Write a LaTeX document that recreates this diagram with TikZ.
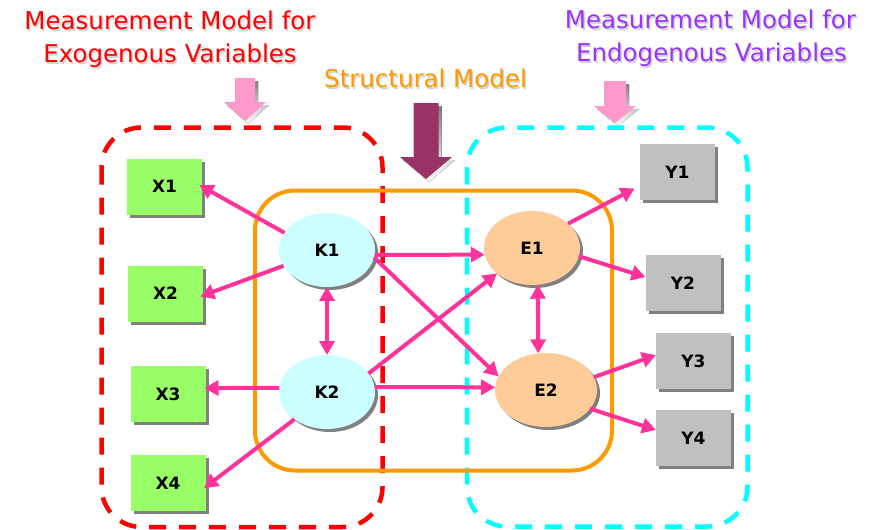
\documentclass[tikz,border=0pt]{standalone}
\usepackage{fontspec}
\setmainfont{DejaVu Sans}
\usetikzlibrary{arrows.meta,shadows,shapes.geometric}

\definecolor{exored}{HTML}{FF0000}
\definecolor{endocyan}{HTML}{00FFFF}
\definecolor{structorange}{HTML}{FF9900}
\definecolor{endopurple}{HTML}{9933FF}
\definecolor{linkpink}{HTML}{FF3399}
\definecolor{softpink}{HTML}{FF99CC}
\definecolor{deepmaroon}{HTML}{993366}
\definecolor{xgreen}{HTML}{99FF66}
\definecolor{ygray}{HTML}{C0C0C0}
\definecolor{latentcyan}{HTML}{CCFFFF}
\definecolor{latentpeach}{HTML}{FFCC99}
\definecolor{shade}{HTML}{808080}

\begin{document}
\begin{tikzpicture}[x=1pt,y=-1pt,
  every node/.style={inner sep=0pt,outer sep=0pt},
  titletext/.style={font=\fontsize{24.5}{29}\selectfont,anchor=base},
  titleshadow/.style={titletext,text=black!18},
  boxshadow/.style={drop shadow={shadow xshift=3pt,shadow yshift=-3pt,fill=shade,opacity=1}},
  labeltext/.style={font=\fontsize{17}{20}\selectfont\bfseries},
  obsbox/.style={rectangle,minimum width=75pt,minimum height=56pt,labeltext,boxshadow},
  xbox/.style={obsbox,fill=xgreen},
  ybox/.style={obsbox,fill=ygray},
  latent/.style={ellipse,minimum width=96pt,minimum height=74pt,labeltext,boxshadow},
  exolatent/.style={latent,fill=latentcyan},
  endolatent/.style={latent,fill=latentpeach},
  conn/.style={linkpink,line width=4pt,-{Triangle[length=14pt,width=15pt]}},
  biconn/.style={linkpink,line width=4pt,{Triangle[length=14pt,width=15pt]}-{Triangle[length=14pt,width=15pt]}},
  groupbox/.style={line width=4.5pt,dash pattern=on 17pt off 13pt,rounded corners=40pt},
]
\useasboundingbox (0,0) rectangle (878,530);

% headings (with a faint offset copy as text shadow)
\node[titleshadow] (exoshA) at (171.5,31) {Measurement Model for};
\node[titleshadow] (exoshB) at (171.5,64) {Exogenous Variables};
\node[titleshadow] (endoshA) at (712,30) {Measurement Model for};
\node[titleshadow] (endoshB) at (713,63) {Endogenous Variables};
\node[titleshadow] (structsh) at (427,89) {Structural Model};
\node[titletext,text=exored] (exoA) at (170,29.5) {Measurement Model for};
\node[titletext,text=exored] (exoB) at (170,62.5) {Exogenous Variables};
\node[titletext,text=endopurple] (endoA) at (710.5,28.5) {Measurement Model for};
\node[titletext,text=endopurple] (endoB) at (711.5,61.5) {Endogenous Variables};
\node[titletext,text=structorange] (structT) at (425.5,87.5) {Structural Model};

% block arrows pointing down at the three parts
\begin{scope}[shift={(3,3)}]
  \fill[shade] (235,78) -- (255,78) -- (255,102) -- (266,102) -- (245,121) -- (224,102) -- (235,102) -- cycle;
  \fill[shade] (604,81) -- (626,81) -- (626,106) -- (636,106) -- (615,123) -- (594,106) -- (604,106) -- cycle;
  \fill[shade] (413.5,103) -- (438.5,103) -- (438.5,157) -- (452,157) -- (426,179) -- (400,157) -- (413.5,157) -- cycle;
\end{scope}
\fill[softpink] (235,78) -- (255,78) -- (255,102) -- (266,102) -- (245,121) -- (224,102) -- (235,102) -- cycle;
\fill[softpink] (604,81) -- (626,81) -- (626,106) -- (636,106) -- (615,123) -- (594,106) -- (604,106) -- cycle;
\fill[deepmaroon] (413.5,103) -- (438.5,103) -- (438.5,157) -- (452,157) -- (426,179) -- (400,157) -- (413.5,157) -- cycle;

% model regions
\draw[groupbox,exored] (101.5,127.5) rectangle (382.5,527);
\draw[groupbox,endocyan] (467,127.5) rectangle (747.5,526.5);
\draw[structorange,line width=4pt,rounded corners=40pt] (255,190.5) rectangle (612,470.5);

% observed indicators
\node[xbox] (X1) at (164.5,186.5) {X1};
\node[xbox] (X2) at (165.5,293.5) {X2};
\node[xbox] (X3) at (168,394) {X3};
\node[xbox] (X4) at (168,483) {X4};
\node[ybox] (Y1) at (677.5,172) {Y1};
\node[ybox] (Y2) at (683,283) {Y2};
\node[ybox] (Y3) at (693.5,361) {Y3};
\node[ybox] (Y4) at (693.5,438) {Y4};

% latent variables
\node[exolatent] (K1) at (327,250) {K1};
\node[exolatent] (K2) at (327,392) {K2};
\node[endolatent] (E1) at (532,248) {E1};
\node[endolatent,minimum width=102pt] (E2) at (546,390) {E2};

% exogenous measurement paths
\draw[conn,shorten >=-3pt] (K1.158) -- (X1.east);
\draw[conn,shorten >=-3pt] (K1.200) -- (X2.-3);
\draw[conn,shorten >=-1pt] (K2.175) -- (X3.9);
\draw[conn,shorten >=-2pt] (K2.220) -- (X4.-6);

% structural paths
\draw[biconn] (K1.south) -- (K2.north);
\draw[biconn] (E1.-81) -- (E2.102);
\draw[conn] (K1.-6) -- (E1.188);
\draw[conn] (K1.-9) -- (E2.164);
\draw[conn] (K2.24) -- (E1.216);
\draw[conn] (K2.6) -- (E2.177);

% endogenous measurement paths
\draw[conn,shorten >=6pt] (E1.34) -- (Y1.200);
\draw[conn] (E1.-10) -- (Y2.171);
\draw[conn] (E2.15) -- (Y3.171);
\draw[conn] (E2.-23) -- (Y4.168);
\end{tikzpicture}
\end{document}
